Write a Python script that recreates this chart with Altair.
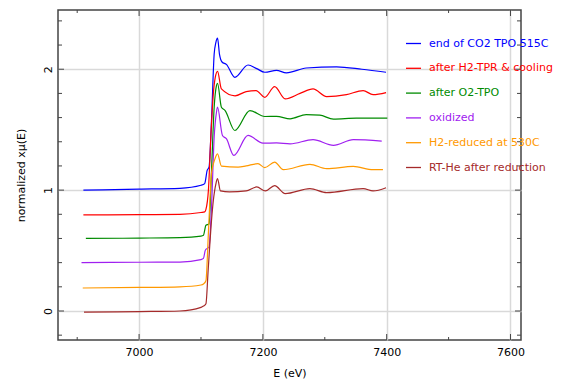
import altair as alt
import pandas as pd

labels = ["end of CO2 TPO 515C", "after H2-TPR & cooling", "after O2-TPO",
          "oxidized", "H2-reduced at 530C", "RT-He after reduction"]
colors = ["#0000ff", "#ff0000", "#008b00", "#a020f0", "#ff9900", "#a52a2a"]

e_blue = [6910, 7000, 7066, 7100, 7106, 7110, 7113, 7117, 7121.3, 7124, 7126.7, 7130, 7134, 7141, 7154.7, 7176, 7190, 7203, 7222, 7238, 7270, 7319, 7360, 7399]
mu_blue = [1.000, 1.008, 1.015, 1.040, 1.054, 1.163, 1.19, 1.576, 2.126, 2.22, 2.258, 2.12, 2.06, 2.04, 1.933, 2.035, 2.005, 1.975, 1.99, 1.97, 2.01, 2.02, 2.00, 1.975]

e_red = [6910, 7000, 7066, 7100, 7106, 7108, 7112, 7116, 7120, 7123, 7126.7, 7133, 7155, 7173, 7189, 7203, 7219, 7236, 7260, 7281, 7303, 7335, 7362, 7378, 7399]
mu_red = [0.795, 0.797, 0.800, 0.815, 0.820, 0.84, 1.00, 1.45, 1.80, 1.93, 1.983, 1.837, 1.780, 1.815, 1.823, 1.768, 1.856, 1.755, 1.800, 1.837, 1.774, 1.790, 1.823, 1.790, 1.807]

e_green = [6914, 7000, 7066, 7100, 7104, 7108, 7113, 7117, 7121.3, 7125, 7126.7, 7133, 7139, 7154.7, 7179, 7203, 7222, 7244, 7270, 7292, 7314, 7351, 7401]
mu_green = [0.600, 0.603, 0.607, 0.620, 0.627, 0.710, 0.720, 1.163, 1.686, 1.865, 1.884, 1.686, 1.658, 1.493, 1.658, 1.609, 1.610, 1.590, 1.625, 1.620, 1.587, 1.595, 1.595]

e_purple = [6907, 7000, 7066, 7100, 7104, 7107, 7113, 7117, 7121.3, 7125, 7126.7, 7134.7, 7141, 7153, 7176, 7200, 7222, 7244, 7281, 7314, 7346, 7392]
mu_purple = [0.400, 0.403, 0.405, 0.425, 0.435, 0.503, 0.530, 0.860, 1.438, 1.644, 1.686, 1.452, 1.425, 1.287, 1.452, 1.389, 1.390, 1.383, 1.417, 1.370, 1.417, 1.405]

e_orange = [6909, 7000, 7066, 7100, 7104, 7108, 7112, 7117, 7122, 7126.7, 7133, 7160, 7173, 7192, 7203, 7219, 7233, 7276, 7303, 7346, 7378, 7394]
mu_orange = [0.190, 0.195, 0.200, 0.215, 0.223, 0.250, 0.650, 1.140, 1.250, 1.300, 1.199, 1.190, 1.200, 1.219, 1.186, 1.232, 1.169, 1.213, 1.177, 1.196, 1.169, 1.169]

e_brown = [6911, 7000, 7066, 7100, 7104, 7108, 7111.6, 7117, 7120, 7124, 7126.7, 7131.5, 7146, 7173, 7190, 7204, 7219, 7236, 7276, 7303, 7362, 7378, 7399]
mu_brown = [-0.010, -0.005, 0.000, 0.030, 0.041, 0.060, 0.338, 0.750, 0.916, 1.050, 1.095, 0.993, 0.985, 0.993, 1.026, 0.993, 1.037, 0.971, 1.012, 0.979, 1.012, 0.993, 1.020]

x_major = [7000, 7200, 7400, 7600]
x_minor = [6900, 7100, 7300, 7500]
y_major = [0, 1, 2]
y_minor = [-0.2, 0.2, 0.4, 0.6, 0.8, 1.2, 1.4, 1.6, 1.8, 2.2, 2.4]

W, H = 463, 330
FONT = "DejaVu Sans"
FRAME = "#444444"

rows = []
for lab, es, vs in zip(labels,
                       [e_blue, e_red, e_green, e_purple, e_orange, e_brown],
                       [mu_blue, mu_red, mu_green, mu_purple, mu_orange, mu_brown]):
    for i, (e, v) in enumerate(zip(es, vs)):
        rows.append({"series": lab, "E": e, "mu": v, "order": i})
df = pd.DataFrame(rows)

x_scale = alt.Scale(domain=[6869, 7617], nice=False, zero=False)
y_scale = alt.Scale(domain=[-0.24, 2.49], nice=False, zero=False)

x_axis = alt.Axis(title="E (eV)", values=x_major, format="d", grid=True,
                  ticks=False, domain=False, labelPadding=6, titlePadding=10,
                  gridColor="#d9d9d9", gridWidth=1.5,
                  labelFont=FONT, labelFontSize=11, labelColor="#000",
                  titleFont=FONT, titleFontSize=11, titleFontWeight="normal",
                  titleColor="#000")
y_axis = alt.Axis(title="normalized xμ(E)", values=y_major, format="d", grid=True,
                  ticks=False, domain=False, labelAngle=-90, labelAlign="center",
                  labelBaseline="bottom", labelPadding=5,
                  gridColor="#d9d9d9", gridWidth=1.5,
                  labelFont=FONT, labelFontSize=11, labelColor="#000",
                  titleFont=FONT, titleFontSize=11, titleFontWeight="normal",
                  titleColor="#000", titleX=-32, titleY=H / 2,
                  titleAlign="center", titleBaseline="bottom", titleAngle=270)

lines = alt.Chart(df).mark_line(interpolate="monotone", strokeWidth=1.2).encode(
    x=alt.X("E:Q", scale=x_scale, axis=x_axis),
    y=alt.Y("mu:Q", scale=y_scale, axis=y_axis),
    color=alt.Color("series:N", scale=alt.Scale(domain=labels, range=colors),
                    legend=alt.Legend(orient="none", legendX=347, legendY=25, title=None,
                                      symbolType="stroke", symbolSize=225,
                                      symbolStrokeWidth=1.3, labelFont=FONT,
                                      labelFontSize=11, rowPadding=10.8, labelOffset=7,
                                      padding=0,
                                      labelColor=alt.ExprRef(expr="scale('color', datum.value)"))),
    order="order:Q",
)


def xticks(vals, length, top):
    return alt.Chart(pd.DataFrame({"E": vals})).mark_rule(color=FRAME, strokeWidth=1).encode(
        x=alt.X("E:Q", scale=x_scale, axis=x_axis),
        y=alt.value(0 if top else H),
        y2=alt.value(length if top else H - length),
    )


def yticks(vals, length, right):
    return alt.Chart(pd.DataFrame({"mu": vals})).mark_rule(color=FRAME, strokeWidth=1).encode(
        y=alt.Y("mu:Q", scale=y_scale, axis=y_axis),
        x=alt.value(W if right else 0),
        x2=alt.value(W - length if right else length),
    )


layers = [lines]
for top in (False, True):
    layers.append(xticks(x_major, 6, top))
    layers.append(xticks(x_minor, 3, top))
for right in (False, True):
    layers.append(yticks(y_major, 6, right))
    layers.append(yticks(y_minor, 4, right))

chart = alt.layer(*layers).properties(
    width=W, height=H,
    autosize=alt.AutoSizeParams(type="none"),
    padding={"left": 50, "top": 2, "right": 50, "bottom": 43},
).configure_view(stroke=FRAME, strokeWidth=1.5)

chart.save("out.html", embed_options={"renderer": "svg", "actions": False})
